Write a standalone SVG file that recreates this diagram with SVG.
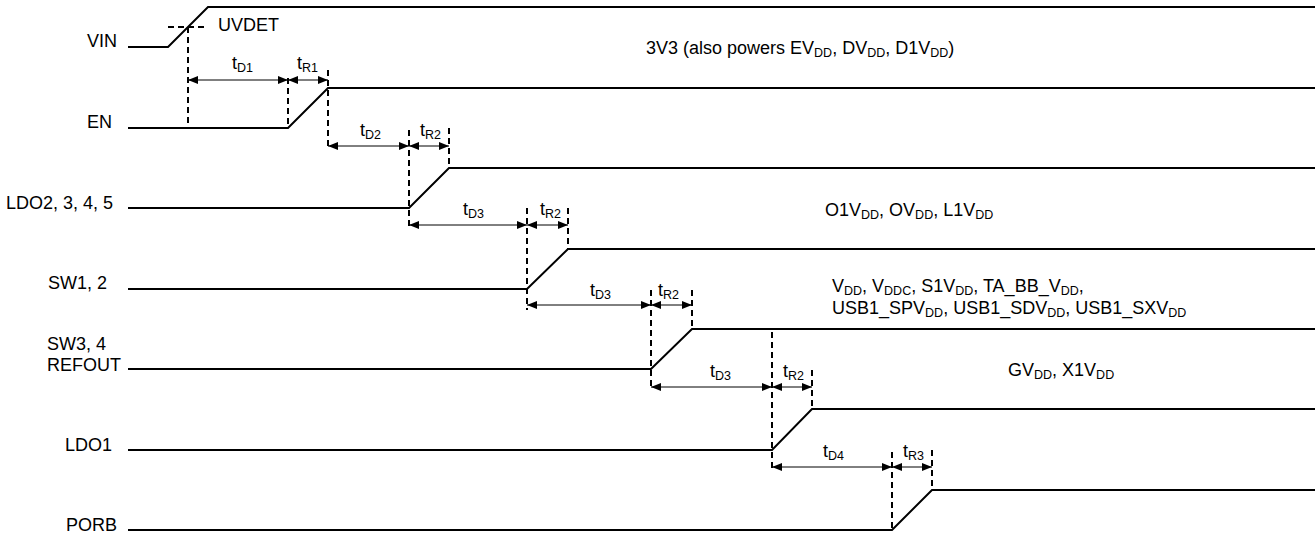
<svg xmlns="http://www.w3.org/2000/svg" width="1315" height="533" viewBox="0 0 1315 533">
<style>
text{font-family:"Liberation Sans",Arial,Helvetica,sans-serif;font-size:18px;fill:#000}
.s{font-size:12.5px}
.sig{fill:none;stroke:#000;stroke-width:2;stroke-linejoin:miter}
.dash{fill:none;stroke:#000;stroke-width:2;stroke-dasharray:6,4}
.arr{fill:none;stroke:#000;stroke-width:1;marker-start:url(#ah);marker-end:url(#ah)}
</style>
<defs>
<marker id="ah" viewBox="0 0 10 8" refX="10" refY="4" markerWidth="10" markerHeight="8" markerUnits="userSpaceOnUse" orient="auto-start-reverse">
<path d="M0,0 L10,4 L0,8 z" fill="#000"/>
</marker>
</defs>
<rect width="1315" height="533" fill="#fff"/>
<g id="vin">
<path class="sig" d="M128,47 L168,47 L208,7 L1315,7"/>
<text x="87" y="47">VIN</text>
<path class="dash" d="M168,27 L208,27"/>
<text x="218" y="31">UVDET</text>
<text x="646" y="54">3V3 (also powers EV<tspan class="s" dy="3">DD</tspan><tspan dy="-3">, DV</tspan><tspan class="s" dy="3">DD</tspan><tspan dy="-3">, D1V</tspan><tspan class="s" dy="3">DD</tspan><tspan dy="-3">)</tspan></text>
</g>
<g id="en">
<path class="sig" d="M128,128 L288,128 L328,88 L1315,88"/>
<text x="87" y="128">EN</text>
</g>
<g id="ldo2">
<path class="sig" d="M128,208 L409,208 L449,168 L1315,168"/>
<text x="6" y="209">LDO2, 3, 4, 5</text>
<text x="825" y="216">O1V<tspan class="s" dy="3">DD</tspan><tspan dy="-3">, OV</tspan><tspan class="s" dy="3">DD</tspan><tspan dy="-3">, L1V</tspan><tspan class="s" dy="3">DD</tspan></text>
</g>
<g id="sw12">
<path class="sig" d="M128,289 L527,289 L568,249 L1315,249"/>
<text x="48" y="289">SW1, 2</text>
<text x="832" y="292">V<tspan class="s" dy="3">DD</tspan><tspan dy="-3">, V</tspan><tspan class="s" dy="3">DDC</tspan><tspan dy="-3">, S1V</tspan><tspan class="s" dy="3">DD</tspan><tspan dy="-3">, TA_BB_V</tspan><tspan class="s" dy="3">DD</tspan><tspan dy="-3">,</tspan></text>
<text x="832" y="314">USB1_SPV<tspan class="s" dy="3">DD</tspan><tspan dy="-3">, USB1_SDV</tspan><tspan class="s" dy="3">DD</tspan><tspan dy="-3">, USB1_SXV</tspan><tspan class="s" dy="3">DD</tspan></text>
</g>
<g id="sw34">
<path class="sig" d="M128,369 L651,369 L692,329 L1315,329"/>
<text x="47" y="350">SW3, 4</text>
<text x="47" y="371">REFOUT</text>
<text x="1008" y="376">GV<tspan class="s" dy="3">DD</tspan><tspan dy="-3">, X1V</tspan><tspan class="s" dy="3">DD</tspan></text>
</g>
<g id="ldo1">
<path class="sig" d="M128,450 L772,450 L812,409 L1315,409"/>
<text x="65" y="451">LDO1</text>
</g>
<g id="porb">
<path class="sig" d="M128,530 L892,530 L932,490 L1315,490"/>
<text x="66" y="531">PORB</text>
</g>
<g id="connectors">
<path class="dash" d="M188,27 V128"/>
<path class="dash" d="M288,78 V128"/>
<path class="dash" d="M328,70 V150"/>
<path class="dash" d="M409,130 V230"/>
<path class="dash" d="M449,128 V168"/>
<path class="dash" d="M527,208 V310"/>
<path class="dash" d="M568,208 V249"/>
<path class="dash" d="M651,290 V390"/>
<path class="dash" d="M692,290 V329"/>
<path class="dash" d="M772,332 V470"/>
<path class="dash" d="M812,370 V409"/>
<path class="dash" d="M892,452 V530"/>
<path class="dash" d="M932,450 V490"/>
<path class="arr" d="M188,80 H288"/>
<path class="arr" d="M288,80 H328"/>
<path class="arr" d="M328,146 H409"/>
<path class="arr" d="M409,146 H449"/>
<path class="arr" d="M409,225 H527"/>
<path class="arr" d="M527,225 H568"/>
<path class="arr" d="M527,305 H651"/>
<path class="arr" d="M651,305 H692"/>
<path class="arr" d="M651,387 H772"/>
<path class="arr" d="M772,387 H812"/>
<path class="arr" d="M772,467 H892"/>
<path class="arr" d="M892,467 H932"/>
<text x="232" y="69">t<tspan class="s" dy="3">D1</tspan></text>
<text x="297" y="69">t<tspan class="s" dy="3">R1</tspan></text>
<text x="360" y="136">t<tspan class="s" dy="3">D2</tspan></text>
<text x="420" y="136">t<tspan class="s" dy="3">R2</tspan></text>
<text x="463" y="215">t<tspan class="s" dy="3">D3</tspan></text>
<text x="540" y="215">t<tspan class="s" dy="3">R2</tspan></text>
<text x="590" y="296">t<tspan class="s" dy="3">D3</tspan></text>
<text x="658" y="296">t<tspan class="s" dy="3">R2</tspan></text>
<text x="710" y="377">t<tspan class="s" dy="3">D3</tspan></text>
<text x="783" y="377">t<tspan class="s" dy="3">R2</tspan></text>
<text x="823" y="457">t<tspan class="s" dy="3">D4</tspan></text>
<text x="903" y="457">t<tspan class="s" dy="3">R3</tspan></text>
</g>
</svg>
